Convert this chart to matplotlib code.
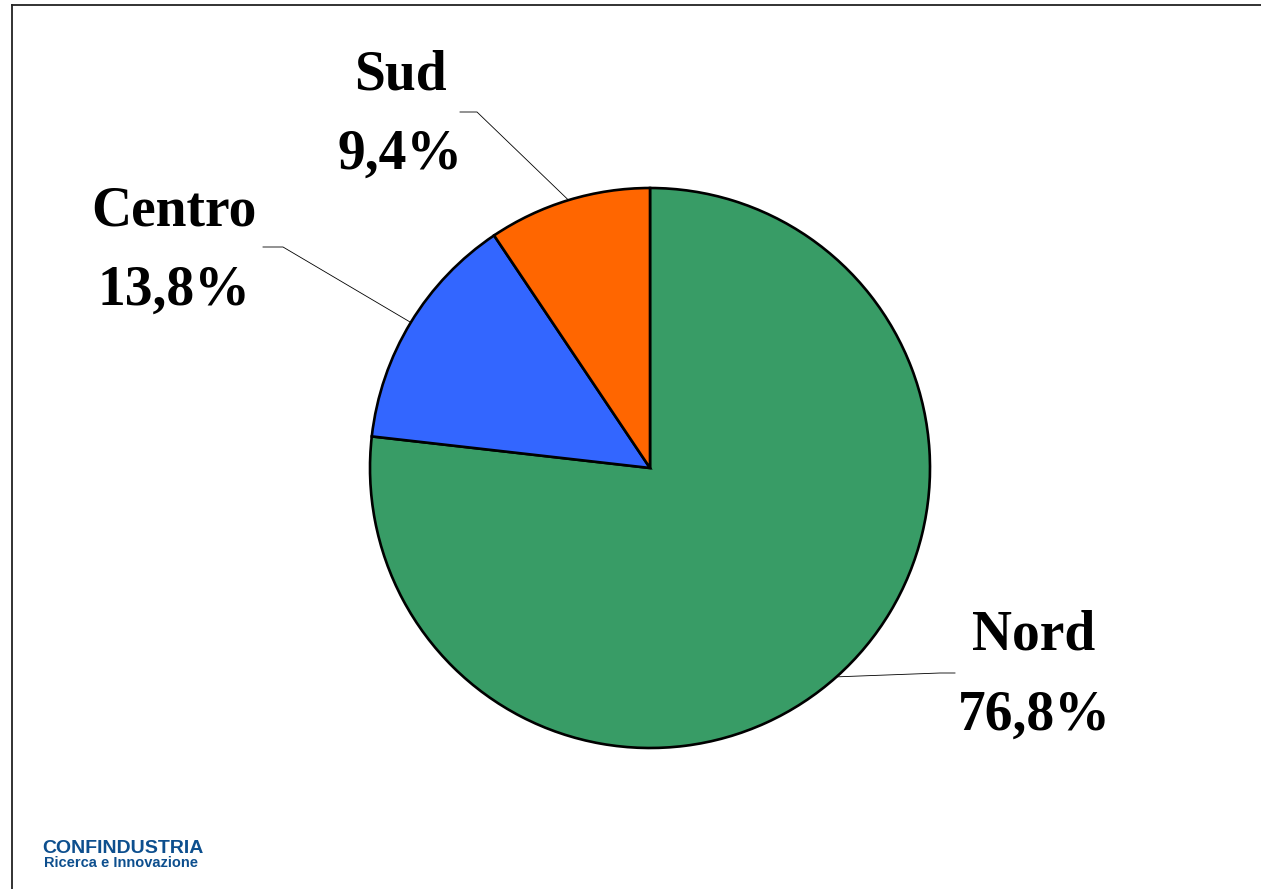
import matplotlib
matplotlib.use("Agg")
import matplotlib.pyplot as plt
import numpy as np
from matplotlib.lines import Line2D

regions = ["Nord", "Centro", "Sud"]
shares = [76.8, 13.8, 9.4]
share_labels = ["76,8%", "13,8%", "9,4%"]
colors = ["#389C66", "#3366FF", "#FF6600"]

W, H = 1261, 889
fig = plt.figure(figsize=(W / 100, H / 100), dpi=100)
ax = fig.add_axes([0, 0, 1, 1])
ax.set_xlim(0, W)
ax.set_ylim(0, H)
ax.axis("off")

cx, cy, R = 650, H - 468, 280
wedges, _ = ax.pie(shares, colors=colors, startangle=90, counterclock=False,
                   center=(cx, cy), radius=R, frame=True,
                   wedgeprops=dict(edgecolor="black", linewidth=1.9))
ax.set_xlim(0, W)
ax.set_ylim(0, H)
ax.axis("off")

# label placement (pixel coords from top-left): text center x, baseline y of both lines, elbow, end
label_pos = {
    "Nord": dict(x=1034, y1=650, y2=730, elbow=(940, 673), end=(955, 673)),
    "Centro": dict(x=174, y1=225, y2=305, elbow=(283, 247), end=(263, 247)),
    "Sud": dict(x=400, y1=89, y2=169, elbow=(477, 112), end=(460, 112)),
}

font = dict(family="Liberation Serif", weight="bold", size=40, color="black")
for w, name, lab in zip(wedges, regions, share_labels):
    p = label_pos[name]
    ang = np.deg2rad((w.theta1 + w.theta2) / 2)
    ax0 = cx + R * np.cos(ang)
    ay0 = cy + R * np.sin(ang)
    ex, ey = p["elbow"]
    fx, fy = p["end"]
    ax.plot([ax0, ex, fx], [ay0, H - ey, H - fy], color="black", lw=0.6)
    ax.text(p["x"], H - p["y1"], name, ha="center", va="baseline", **font)
    ax.text(p["x"], H - p["y2"], lab, ha="center", va="baseline", **font)

# frame lines (top and left)
fig.add_artist(Line2D([12 / W, 1], [1 - 5 / H, 1 - 5 / H], color="#222222", lw=1.3,
                      transform=fig.transFigure))
fig.add_artist(Line2D([12 / W, 12 / W], [0, 1 - 5 / H], color="#222222", lw=1.3,
                      transform=fig.transFigure))

# logo text
fig.text(42 / W, 1 - 853 / H, "CONFINDUSTRIA", family="Liberation Sans", weight="bold",
         size=14, color="#0D4F8E", ha="left", va="baseline")
fig.text(44 / W, 1 - 867 / H, "Ricerca e Innovazione", family="Liberation Sans", weight="bold",
         size=10.5, color="#0D4F8E", ha="left", va="baseline")

fig.savefig("out.png", dpi=100)
